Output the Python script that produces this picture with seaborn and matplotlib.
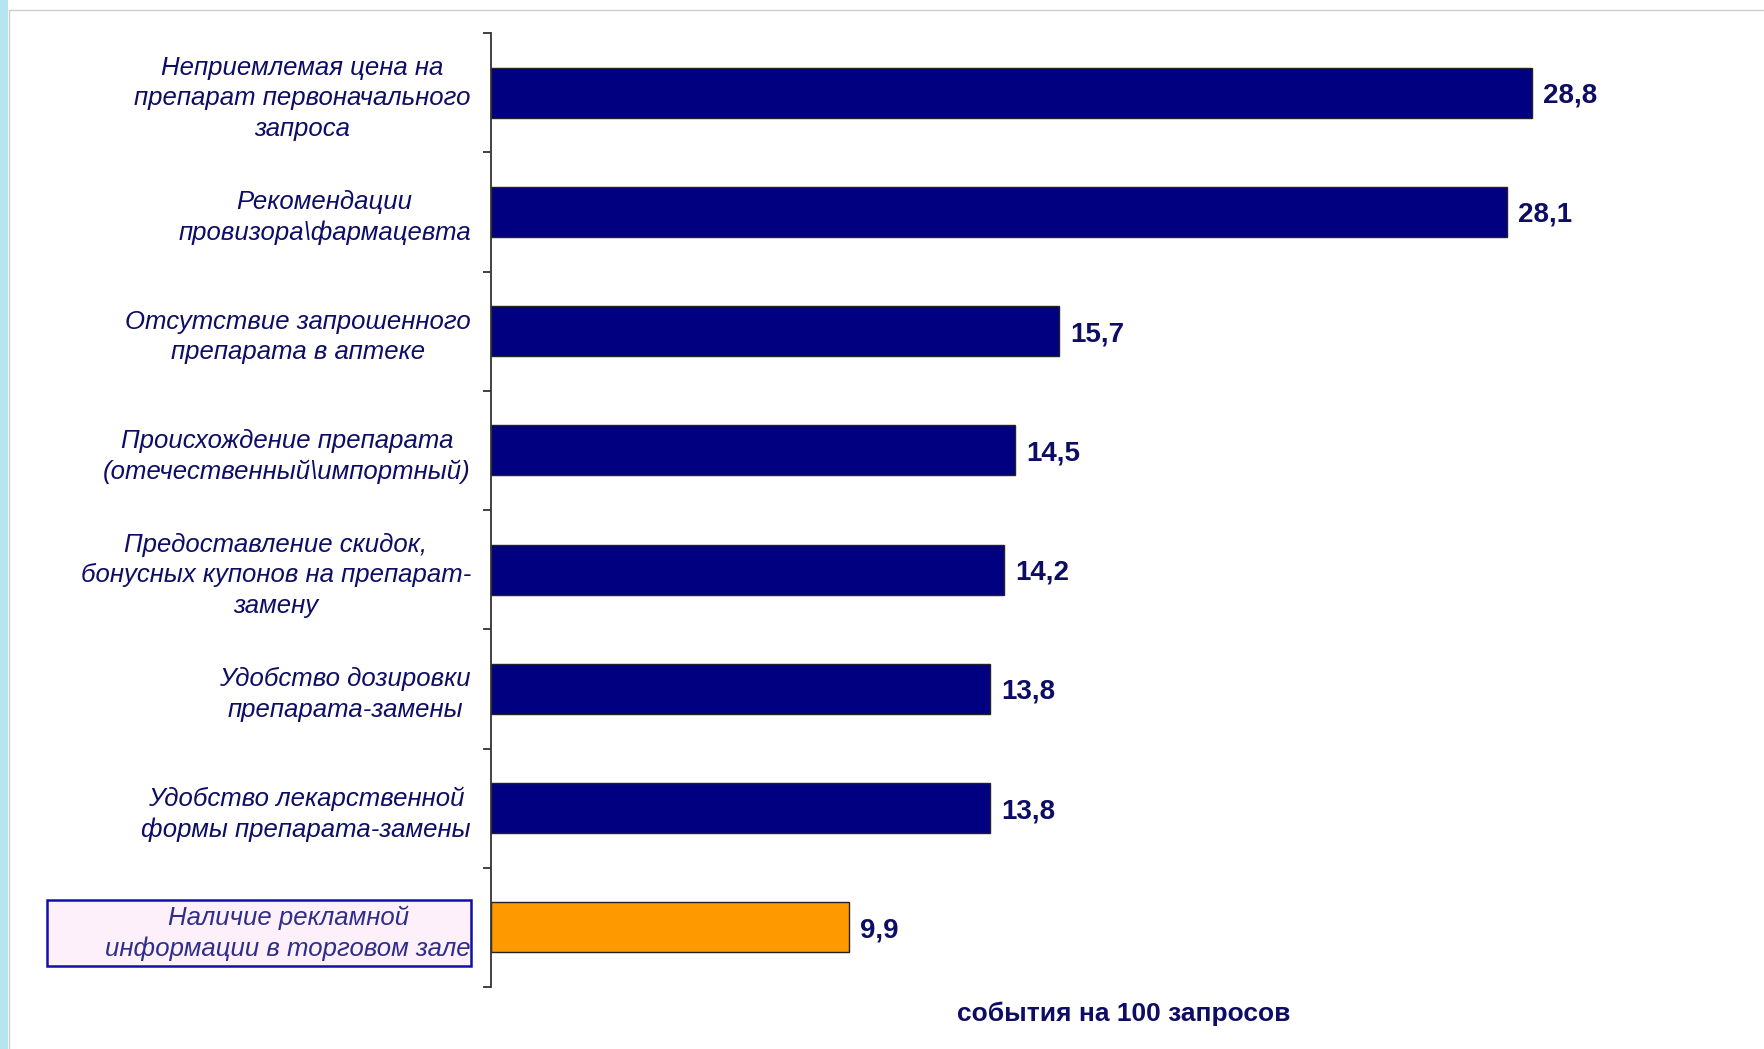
import numpy as np
import pandas as pd
import matplotlib
matplotlib.use("Agg")
import matplotlib.pyplot as plt
import seaborn as sns
from matplotlib.patches import Rectangle
from matplotlib.ticker import FixedLocator

# Data
categories = [
    "Неприемлемая цена на\nпрепарат первоначального\nзапроса",
    "Рекомендации\nпровизора\\фармацевта",
    "Отсутствие запрошенного\nпрепарата в аптеке",
    "Происхождение препарата\n(отечественный\\импортный)",
    "Предоставление скидок,\nбонусных купонов на препарат-\nзамену",
    "Удобство дозировки\nпрепарата-замены",
    "Удобство лекарственной\nформы препарата-замены",
    "Наличие рекламной\nинформации в торговом зале",
]
values = [28.8, 28.1, 15.7, 14.5, 14.2, 13.8, 13.8, 9.9]
value_labels = ["28,8", "28,1", "15,7", "14,5", "14,2", "13,8", "13,8", "9,9"]
bar_colors = ["#000080"] * 7 + ["#ff9900"]
xlabel = "события на 100 запросов"

df = pd.DataFrame({"cat": categories, "val": values})

sns.set_style("white")
plt.rcParams["font.family"] = ["Liberation Sans", "DejaVu Sans"]

navy = "#0d0d66"

fig = plt.figure(figsize=(17.65, 10.49), dpi=100)
fig.patch.set_facecolor("white")
ax = fig.add_axes([0.2782, 0.0591, 0.685, 0.9094])

sns.barplot(data=df, x="val", y="cat", hue="cat", palette=bar_colors,
            legend=False, orient="h", width=0.42, saturation=1,
            edgecolor="#222222", linewidth=1, ax=ax)

ax.set_xlim(0, 33.44)
ax.set_ylim(len(categories) - 0.5, -0.5)

# value labels
for cont, lab in zip(ax.containers, value_labels):
    txt = ax.bar_label(cont, labels=[lab], padding=8, fontsize=20,
                       fontweight="bold", color=navy)
    for t in txt:
        t.set_va("center_baseline")

# spines and ticks
for s in ["top", "right", "bottom"]:
    ax.spines[s].set_visible(False)
ax.spines["left"].set_color("#333333")
ax.spines["left"].set_linewidth(1.3)
ax.set_xticks([])
ax.set_ylabel("")
ax.tick_params(axis="y", which="major", left=False, pad=11)
ax.yaxis.set_minor_locator(FixedLocator(np.arange(-0.5, len(categories), 1)))
ax.tick_params(axis="y", which="minor", left=True, length=6, width=1.3,
               color="#333333", direction="out")

for i, t in enumerate(ax.get_yticklabels()):
    t.set_fontsize(18.5)
    t.set_fontstyle("italic")
    t.set_multialignment("center")
    t.set_linespacing(1.34)
    t.set_color("#2e2e8a" if i == len(categories) - 1 else navy)

ax.set_xlabel(xlabel, fontsize=19, fontweight="bold", color=navy)
ax.xaxis.set_label_coords(0.523, -0.028)
ax.xaxis.label.set_va("center")

# highlight box around the last label
fig.patches.append(Rectangle((47 / 1765, 1 - 966 / 1049), 424 / 1765, 66 / 1049,
                             transform=fig.transFigure, facecolor="#fdf0fb",
                             edgecolor="#1010a8", linewidth=1.8, zorder=-1))

# slide frame decorations
fig.patches.append(Rectangle((0, 0), 8 / 1765, 1, transform=fig.transFigure,
                             facecolor="#b5e6f0", edgecolor="none", zorder=-2))
fig.lines.append(plt.Line2D([9 / 1765, 9 / 1765], [0, 1 - 10 / 1049],
                            transform=fig.transFigure, color="#cccccc", lw=1))
fig.lines.append(plt.Line2D([9 / 1765, 1], [1 - 10 / 1049, 1 - 10 / 1049],
                            transform=fig.transFigure, color="#cccccc", lw=1))

fig.savefig("out.png", dpi=100)
